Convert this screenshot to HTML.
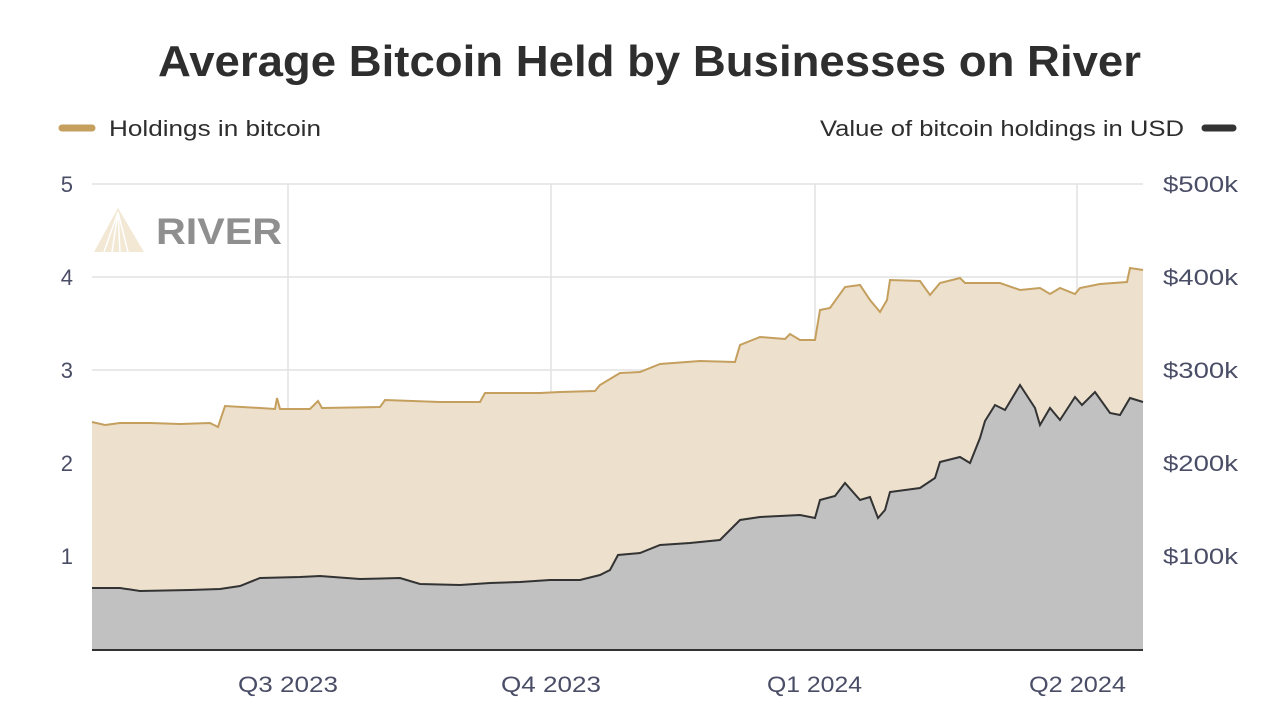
<!DOCTYPE html><html><head><meta charset="utf-8"><style>body{margin:0;background:#fff;width:1280px;height:720px;overflow:hidden}</style></head><body>
<svg width="1280" height="720" xmlns="http://www.w3.org/2000/svg" font-family="Liberation Sans, sans-serif">
<text x="158" y="76" font-size="44" font-weight="bold" fill="#2e2e2e" textLength="983" lengthAdjust="spacingAndGlyphs">Average Bitcoin Held by Businesses on River</text>
<line x1="62" y1="128" x2="92" y2="128" stroke="#c49f5e" stroke-width="7" stroke-linecap="round"/>
<text x="109" y="136" font-size="22" fill="#2e2e2e" textLength="212" lengthAdjust="spacingAndGlyphs">Holdings in bitcoin</text>
<text x="820" y="136" font-size="22" fill="#2e2e2e" textLength="364" lengthAdjust="spacingAndGlyphs">Value of bitcoin holdings in USD</text>
<line x1="1205" y1="128" x2="1233" y2="128" stroke="#333" stroke-width="7" stroke-linecap="round"/>
<g stroke="#e2e2e2" stroke-width="1.5">
<line x1="92" y1="184" x2="1143" y2="184"/><line x1="92" y1="277" x2="1143" y2="277"/><line x1="92" y1="370" x2="1143" y2="370"/><line x1="92" y1="463" x2="1143" y2="463"/><line x1="92" y1="556" x2="1143" y2="556"/>
<line x1="288" y1="184" x2="288" y2="650"/><line x1="551" y1="184" x2="551" y2="650"/><line x1="815" y1="184" x2="815" y2="650"/><line x1="1077" y1="184" x2="1077" y2="650"/>
</g>
<g font-size="22" fill="#4a4d66">
<text x="73" y="192" text-anchor="end">5</text><text x="73" y="285" text-anchor="end">4</text><text x="73" y="378" text-anchor="end">3</text><text x="73" y="471" text-anchor="end">2</text><text x="73" y="564" text-anchor="end">1</text>
<text x="1163" y="192" textLength="75" lengthAdjust="spacingAndGlyphs">$500k</text><text x="1163" y="285" textLength="75" lengthAdjust="spacingAndGlyphs">$400k</text><text x="1163" y="378" textLength="75" lengthAdjust="spacingAndGlyphs">$300k</text><text x="1163" y="471" textLength="75" lengthAdjust="spacingAndGlyphs">$200k</text><text x="1163" y="564" textLength="75" lengthAdjust="spacingAndGlyphs">$100k</text>
<text x="238" y="692" textLength="100" lengthAdjust="spacingAndGlyphs">Q3 2023</text><text x="501" y="692" textLength="100" lengthAdjust="spacingAndGlyphs">Q4 2023</text><text x="767" y="692" textLength="95" lengthAdjust="spacingAndGlyphs">Q1 2024</text><text x="1029" y="692" textLength="97" lengthAdjust="spacingAndGlyphs">Q2 2024</text>
</g>
<g opacity="0.5"><path d="M118 208 L94 252 L144 252 Z" fill="#e6d2aa"/><path d="M118 212 L104 252 M118 212 L112 252 M118 212 L120 252 M118 212 L128 252" stroke="#fff" stroke-width="1.5"/></g>
<text x="156" y="244" font-size="37" font-weight="bold" fill="#8f8f8f" textLength="126" lengthAdjust="spacingAndGlyphs">RIVER</text>
<path d="M92 422 L105 425 L120 423 L150 423 L180 424 L210 423 L218 427 L225 406 L260 408 L275 409 L277 398 L280 409 L310 409 L318 401 L322 408 L380 407 L385 400 L440 402 L460 402 L480 402 L485 393 L540 393 L560 392 L595 391 L600 385 L620 373 L640 372 L660 364 L700 361 L735 362 L740 345 L760 337 L785 339 L790 334 L800 340 L815 340 L820 310 L830 308 L845 287 L860 285 L870 300 L880 312 L887 300 L890 280 L920 281 L930 295 L940 283 L960 278 L965 283 L1000 283 L1020 290 L1040 288 L1050 294 L1060 288 L1075 294 L1080 288 L1100 284 L1127 282 L1130 268 L1143 270 L1143 650 L92 650 Z" fill="#ede1ce" stroke="none"/>
<path d="M92 422 L105 425 L120 423 L150 423 L180 424 L210 423 L218 427 L225 406 L260 408 L275 409 L277 398 L280 409 L310 409 L318 401 L322 408 L380 407 L385 400 L440 402 L460 402 L480 402 L485 393 L540 393 L560 392 L595 391 L600 385 L620 373 L640 372 L660 364 L700 361 L735 362 L740 345 L760 337 L785 339 L790 334 L800 340 L815 340 L820 310 L830 308 L845 287 L860 285 L870 300 L880 312 L887 300 L890 280 L920 281 L930 295 L940 283 L960 278 L965 283 L1000 283 L1020 290 L1040 288 L1050 294 L1060 288 L1075 294 L1080 288 L1100 284 L1127 282 L1130 268 L1143 270" fill="none" stroke="#c49f5e" stroke-width="2"/>
<path d="M92 588 L120 588 L140 591 L190 590 L220 589 L240 586 L260 578 L300 577 L320 576 L360 579 L400 578 L420 584 L460 585 L490 583 L520 582 L550 580 L580 580 L600 575 L610 570 L618 555 L640 553 L660 545 L690 543 L720 540 L740 520 L760 517 L800 515 L815 518 L820 500 L835 496 L845 483 L860 500 L870 497 L878 518 L885 510 L890 492 L920 488 L935 478 L940 462 L960 457 L970 463 L980 438 L985 421 L995 405 L1005 410 L1020 385 L1035 408 L1040 425 L1050 408 L1060 420 L1075 397 L1082 405 L1095 392 L1110 413 L1120 415 L1130 398 L1143 402 L1143 650 L92 650 Z" fill="#c1c1c1"/>
<path d="M92 588 L120 588 L140 591 L190 590 L220 589 L240 586 L260 578 L300 577 L320 576 L360 579 L400 578 L420 584 L460 585 L490 583 L520 582 L550 580 L580 580 L600 575 L610 570 L618 555 L640 553 L660 545 L690 543 L720 540 L740 520 L760 517 L800 515 L815 518 L820 500 L835 496 L845 483 L860 500 L870 497 L878 518 L885 510 L890 492 L920 488 L935 478 L940 462 L960 457 L970 463 L980 438 L985 421 L995 405 L1005 410 L1020 385 L1035 408 L1040 425 L1050 408 L1060 420 L1075 397 L1082 405 L1095 392 L1110 413 L1120 415 L1130 398 L1143 402" fill="none" stroke="#333" stroke-width="2"/>
<line x1="92" y1="650" x2="1143" y2="650" stroke="#333" stroke-width="2"/>
</svg></body></html>
